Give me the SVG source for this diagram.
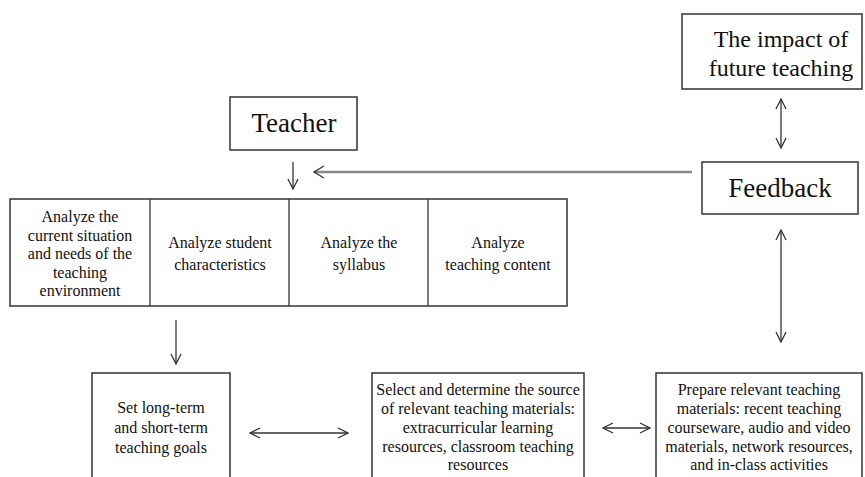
<svg xmlns="http://www.w3.org/2000/svg" width="865" height="477" viewBox="0 0 865 477">
<defs>
<marker id="ah" viewBox="0 0 12 12" refX="11" refY="6" markerWidth="12" markerHeight="12" markerUnits="userSpaceOnUse" orient="auto-start-reverse">
<path d="M1,1 L11,6 L1,11" fill="none" stroke="#333" stroke-width="1.3"/>
</marker>
</defs>
<style>
rect.b{fill:#fff;stroke:#333;stroke-width:1.5}
text{font-family:"Liberation Serif","Times New Roman",serif;fill:#111;text-anchor:middle}
.s{font-size:16px}
.l{font-size:27px}
.m{font-size:24px}
.c{stroke:#333;stroke-width:1.3;fill:none}
.g{stroke:#888;stroke-width:2.5;fill:none}
</style>
<rect width="865" height="477" fill="#fff"/>
<g id="impact">
<rect class="b" x="682" y="14" width="180" height="75"/>
<text class="m" x="781" y="47">The impact of</text>
<text class="m" x="781" y="76">future teaching</text>
</g>
<g id="teacher">
<rect class="b" x="230" y="97" width="127" height="53"/>
<text class="l" x="294" y="132">Teacher</text>
</g>
<g id="feedback">
<rect class="b" x="702" y="162" width="156" height="52"/>
<text class="l" x="780" y="197">Feedback</text>
</g>
<g id="analysis">
<rect class="b" x="10" y="199" width="557" height="107"/>
<line class="c" x1="150" y1="199" x2="150" y2="306" stroke-width="1.5"/>
<line class="c" x1="289" y1="199" x2="289" y2="306" stroke-width="1.5"/>
<line class="c" x1="428" y1="199" x2="428" y2="306" stroke-width="1.5"/>
<text class="s" x="80" y="222">Analyze the</text>
<text class="s" x="80" y="241">current situation</text>
<text class="s" x="80" y="259">and needs of the</text>
<text class="s" x="80" y="278">teaching</text>
<text class="s" x="80" y="296">environment</text>
<text class="s" x="220" y="248">Analyze student</text>
<text class="s" x="220" y="270">characteristics</text>
<text class="s" x="359" y="248">Analyze the</text>
<text class="s" x="359" y="270">syllabus</text>
<text class="s" x="498" y="248">Analyze</text>
<text class="s" x="498" y="270">teaching content</text>
</g>
<g id="goals">
<rect class="b" x="92" y="373" width="138" height="110"/>
<text class="s" x="161" y="413">Set long-term</text>
<text class="s" x="161" y="433">and short-term</text>
<text class="s" x="161" y="453">teaching goals</text>
</g>
<g id="select">
<rect class="b" x="372" y="373" width="212" height="110"/>
<text class="s" x="478" y="395">Select and determine the source</text>
<text class="s" x="478" y="414">of relevant teaching materials:</text>
<text class="s" x="478" y="433">extracurricular learning</text>
<text class="s" x="478" y="452">resources, classroom teaching</text>
<text class="s" x="478" y="470">resources</text>
</g>
<g id="prepare">
<rect class="b" x="656" y="373" width="206" height="110"/>
<text class="s" x="759" y="395">Prepare relevant teaching</text>
<text class="s" x="759" y="414">materials: recent teaching</text>
<text class="s" x="759" y="433">courseware, audio and video</text>
<text class="s" x="759" y="452">materials, network resources,</text>
<text class="s" x="759" y="470">and in-class activities</text>
</g>
<g id="connectors">
<line class="c" x1="293" y1="162" x2="293" y2="189" marker-end="url(#ah)"/>
<line class="g" x1="692" y1="172" x2="314" y2="172"/>
<path class="c" d="M324,166 L314,172 L324,178"/>
<line class="c" x1="781" y1="99" x2="781" y2="148" marker-start="url(#ah)" marker-end="url(#ah)"/>
<line class="c" x1="781" y1="230" x2="781" y2="342" marker-start="url(#ah)" marker-end="url(#ah)"/>
<line class="c" x1="176" y1="320" x2="176" y2="364" marker-end="url(#ah)"/>
<line class="c" x1="250" y1="433" x2="348" y2="433" marker-start="url(#ah)" marker-end="url(#ah)"/>
<line class="c" x1="603" y1="428" x2="650" y2="428" marker-start="url(#ah)" marker-end="url(#ah)"/>
</g>
</svg>
